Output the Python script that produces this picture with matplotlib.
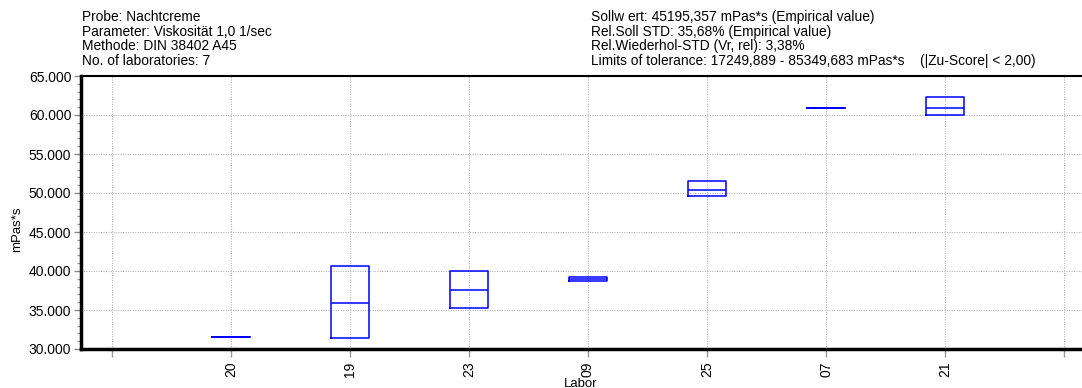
import matplotlib
matplotlib.use("Agg")
import matplotlib.pyplot as plt
from matplotlib.ticker import MultipleLocator, FuncFormatter

plt.rcParams['font.family'] = ['Liberation Sans', 'DejaVu Sans']

# Laboratory results (mPas*s): box top, median, box bottom
labs = ["20", "19", "23", "09", "25", "07", "21"]
upper = [31580, 40640, 40040, 39230, 51580, 60940, 62270]
median = [31580, 35940, 37560, 38950, 50420, 60940, 60940]
lower = [31580, 31370, 35220, 38720, 49650, 60940, 59960]

info_left = [
    "Probe: Nachtcreme",
    "Parameter: Viskosität 1,0 1/sec",
    "Methode: DIN 38402 A45",
    "No. of laboratories: 7",
]
info_right = [
    "Sollw ert: 45195,357 mPas*s (Empirical value)",
    "Rel.Soll STD: 35,68% (Empirical value)",
    "Rel.Wiederhol-STD (Vr, rel): 3,38%",
    "Limits of tolerance: 17249,889 - 85349,683 mPas*s    (|Zu-Score| < 2,00)",
]

W, H = 1082, 388
fig = plt.figure(figsize=(W / 100, H / 100), dpi=100)
ax = fig.add_axes([81 / W, (H - 349) / H, 1 - 81 / W, (349 - 76) / H])

stats = []
for lab, hi, med, lo in zip(labs, upper, median, lower):
    stats.append(dict(label=lab, med=med, q1=lo, q3=hi, whislo=lo, whishi=hi))

positions = list(range(1, len(labs) + 1))
blue = "#0000ff"
ax.bxp(stats, positions=positions, widths=0.32, showcaps=False, showfliers=False,
       boxprops=dict(color=blue, linewidth=1.1),
       medianprops=dict(color=blue, linewidth=1.1),
       whiskerprops=dict(color=blue, linewidth=0), zorder=3)

ax.set_xlim(-0.258, 8.15)
ax.set_ylim(30000, 65000)

ax.set_xticks(range(0, len(labs) + 2))
ax.set_xticklabels([""] + labs + [""], rotation=90, fontsize=10)
ax.yaxis.set_major_locator(MultipleLocator(5000))
ax.yaxis.set_minor_locator(MultipleLocator(1000))
ax.yaxis.set_major_formatter(FuncFormatter(lambda v, p: f"{v:,.0f}".replace(",", ".")))
ax.tick_params(axis="y", labelsize=10, direction="out", length=5, width=1, color="#888888", pad=2)
ax.tick_params(axis="y", which="minor", direction="out", length=3, width=1, color="#999999")
ax.tick_params(axis="x", direction="out", length=6, width=1, color="#999999", pad=3)

ax.grid(True, which="major", linestyle=(0, (1, 1.2)), color="#b8b8b8", linewidth=0.8)
ax.set_axisbelow(True)

ax.spines["right"].set_visible(False)
ax.spines["left"].set_linewidth(2.5)
ax.spines["bottom"].set_linewidth(2.5)
ax.spines["top"].set_linewidth(1.5)

ax.set_xlabel("Labor", fontsize=9.5, labelpad=-1)
ax.xaxis.set_label_coords((581 - 81) / (W - 81), -0.105)
fig.text(17 / W, 1 - 229 / H, "mPas*s", rotation=90, fontsize=9.5, ha="center", va="center")

line_y = [17, 32, 46, 61]
for txt, y in zip(info_left, line_y):
    fig.text(82 / W, 1 - y / H, txt, fontsize=9.9, ha="left", va="center")
for txt, y in zip(info_right, line_y):
    fig.text(591 / W, 1 - y / H, txt, fontsize=9.9, ha="left", va="center")

fig.savefig("out.png", dpi=100)
